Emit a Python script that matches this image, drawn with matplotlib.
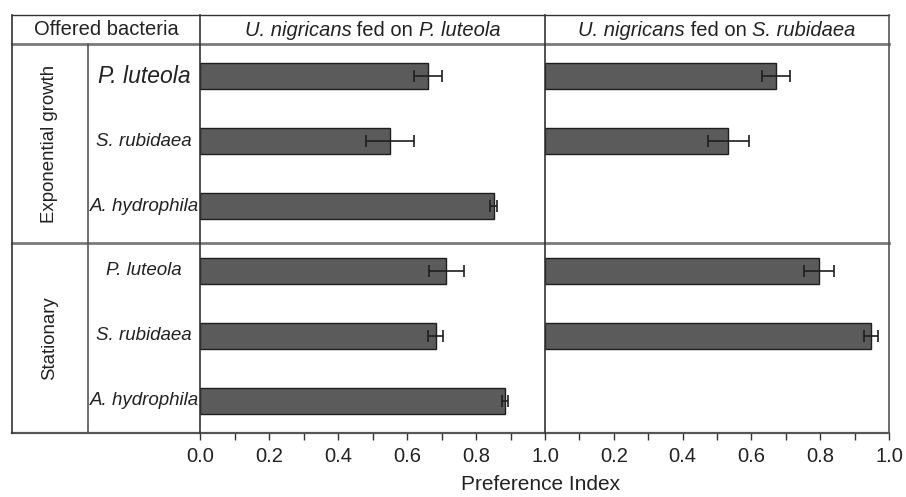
import numpy as np
import matplotlib
matplotlib.use("Agg")
import matplotlib.pyplot as plt
from matplotlib.lines import Line2D
from matplotlib.offsetbox import TextArea, HPacker, AnnotationBbox

plt.rcParams["font.family"] = ["Liberation Sans", "DejaVu Sans"]

# data
groups = ["Exponential growth", "Stationary"]
species = ["P. luteola", "S. rubidaea", "A. hydrophila"]
predator = "U. nigricans"
food = ["P. luteola", "S. rubidaea"]
# rows: exp P.l, exp S.r, exp A.h, stat P.l, stat S.r, stat A.h
fed_luteola = [0.660, 0.550, 0.852, 0.714, 0.683, 0.884]
fed_luteola_err = [0.040, 0.070, 0.010, 0.050, 0.022, 0.010]
fed_rubidaea = [0.672, 0.533, np.nan, 0.797, 0.948, np.nan]
fed_rubidaea_err = [0.040, 0.060, np.nan, 0.044, 0.020, np.nan]

W, H = 906, 497
fig = plt.figure(figsize=(W / 100, H / 100), dpi=100)


def fx(px):
    return px / W


def fy(py):
    return 1 - py / H


# table frame coordinates (pixels)
X0, XG, XP1, XP2, X1 = 12, 88, 200, 545, 889
Y0, YH, YG, Y1 = 15, 44, 243, 433

bar_color = "#5b5b5b"
line_col = "#333333"
text_col = "#222222"
rows = np.arange(6)

axes = []
for i, (vals, errs) in enumerate([(fed_luteola, fed_luteola_err),
                                  (fed_rubidaea, fed_rubidaea_err)]):
    left = XP1 if i == 0 else XP2
    right = XP2 if i == 0 else X1
    ax = fig.add_axes([fx(left), fy(Y1), fx(right - left), fy(YH) - fy(Y1)])
    ax.patch.set_alpha(0)
    v = np.array(vals)
    e = np.array(errs)
    ax.barh(rows, v, height=0.4, color=bar_color, edgecolor="#1e1e1e",
            linewidth=1.0, zorder=2)
    ax.errorbar(v, rows, xerr=e, fmt="none", ecolor="#1e1e1e",
                elinewidth=1.2, capsize=4.5, capthick=1.2, zorder=3)
    ax.set_xlim(0, 1.0)
    ax.set_ylim(5.5, -0.5)
    ax.set_yticks([])
    for s in ["top", "left", "right"]:
        ax.spines[s].set_visible(False)
    ax.spines["bottom"].set_color("#555555")
    ax.spines["bottom"].set_linewidth(1.6)
    if i == 0:
        ax.set_xticks([0.0, 0.2, 0.4, 0.6, 0.8, 1.0])
    else:
        ax.set_xticks([0.2, 0.4, 0.6, 0.8, 1.0])
    ax.set_xticks([0.1, 0.3, 0.5, 0.7, 0.9], minor=True)
    ax.tick_params(axis="x", which="both", direction="out", length=5,
                   width=1.0, color="#333333", labelsize=14.5, pad=5,
                   labelcolor=text_col)
    axes.append(ax)


# table lines
def hline(py, xa, xb, lw=1.0, color=line_col):
    fig.add_artist(Line2D([fx(xa), fx(xb)], [fy(py), fy(py)], lw=lw,
                          color=color, transform=fig.transFigure))


def vline(px, ya, yb, lw=1.0, color=line_col):
    fig.add_artist(Line2D([fx(px), fx(px)], [fy(ya), fy(yb)], lw=lw,
                          color=color, transform=fig.transFigure))


hline(Y0, X0, X1, lw=1.0)
hline(YH, X0, X1, lw=2.0, color="#7a7a7a")
hline(YG, X0, X1, lw=2.0, color="#7a7a7a")
hline(Y1, X0, XP1, lw=1.6, color="#555555")
vline(X0, Y0, Y1, lw=1.2)
vline(XG, YH, Y1, lw=1.2, color="#555555")
vline(XP1, Y0, Y1, lw=1.2)
vline(XP2, Y0, Y1, lw=1.2)
vline(X1, Y0, Y1, lw=1.2, color="#555555")

# header text
fig.text(fx((X0 + XP1) / 2), fy((Y0 + YH) / 2), "Offered bacteria",
         ha="center", va="center", fontsize=14.5, color=text_col)


def mixed_title(pieces, xc, yc):
    boxes = [TextArea(t, textprops=dict(fontsize=14.5, color=text_col,
                                        style=("italic" if it else "normal")))
             for t, it in pieces]
    pack = HPacker(children=boxes, pad=0, sep=0, align="baseline")
    ab = AnnotationBbox(pack, (fx(xc), fy(yc)), xycoords="figure fraction",
                        frameon=False, box_alignment=(0.5, 0.5), pad=0)
    fig.add_artist(ab)


for k, (a, b) in enumerate([(XP1, XP2), (XP2, X1)]):
    mixed_title([(predator, True), (" fed on ", False), (food[k], True)],
                (a + b) / 2, (Y0 + YH) / 2 + 1)

# group labels
fig.text(fx((X0 + XG) / 2), fy((YH + YG) / 2), groups[0], rotation=90,
         ha="center", va="center", fontsize=13.4, color=text_col)
fig.text(fx((X0 + XG) / 2), fy((YG + Y1) / 2), groups[1], rotation=90,
         ha="center", va="center", fontsize=13.4, color=text_col)

# species labels, placed on the bar rows of the first panel
for r in rows:
    name = species[r % 3]
    size = 16.5 if r == 0 else 13.5
    axes[0].annotate(name, xy=(0, r), xycoords=("axes fraction", "data"),
                     xytext=(-(XP1 - XG) / 2 * 0.72, 0),
                     textcoords="offset points", ha="center", va="center",
                     fontsize=size, style="italic", color=text_col)

fig.text(fx(XP2 - 4), fy(485), "Preference Index", ha="center", va="center",
         fontsize=15, color=text_col)

fig.savefig("out.png", dpi=100)
